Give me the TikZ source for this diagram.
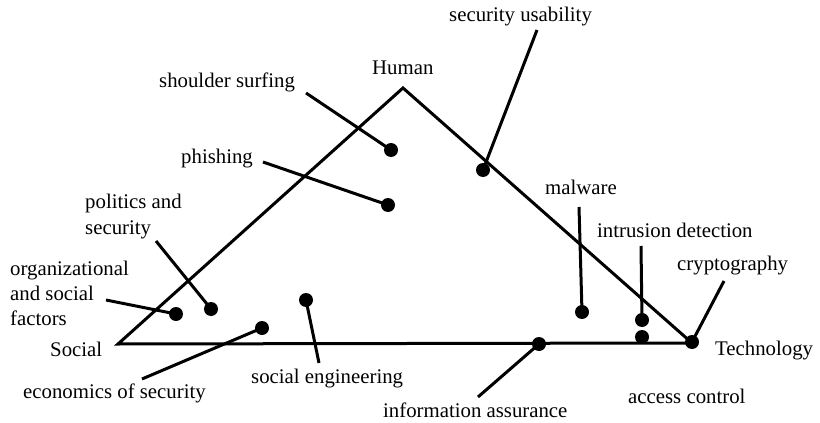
\documentclass[tikz,border=0pt]{standalone}
\usepackage{fontspec}
\setmainfont{Liberation Serif}
\begin{document}
\begin{tikzpicture}[x=1pt,y=-1pt,
  lbl/.style={inner sep=0pt,anchor=base west,font=\fontsize{20.8}{25}\selectfont},
  dot/.style={circle,fill=black,inner sep=0pt,minimum size=14pt},
  link/.style={line width=3pt},
  edge/.style={line width=3pt,line join=miter}]
\useasboundingbox (0,0) rectangle (820,423);
% triangle vertices
\coordinate (vS) at (118,344);
\coordinate (vH) at (403,88);
\coordinate (vT) at (692,343);
\draw[edge] (vS) -- (vH) -- (vT) -- cycle;
% dots
\node[dot] (dss) at (391,150) {};
\node[dot] (dsu) at (483,170) {};
\node[dot] (dph) at (388,205) {};
\node[dot] (dorg) at (176,314) {};
\node[dot] (dpol) at (211,309) {};
\node[dot] (dse) at (306,300) {};
\node[dot] (deco) at (262,328) {};
\node[dot] (dmal) at (582,312) {};
\node[dot] (did) at (642,320) {};
\node[dot] (dac) at (642,337) {};
\node[dot] (dia) at (539,344) {};
\node[dot] (dtech) at (692,342) {};
% leader line ends
\coordinate (lss) at (306,93);
\coordinate (lsu) at (537,30);
\coordinate (lph) at (263,162);
\coordinate (lpol) at (156,241);
\coordinate (lorg) at (106,300);
\coordinate (leco) at (142,379);
\coordinate (lse) at (319,363);
\coordinate (lmal) at (579,207);
\coordinate (lid) at (641,246);
\coordinate (lcry) at (724,281);
\coordinate (lia) at (478,397);
\draw[link] (lss) -- (dss.center);
\draw[link] (lsu) -- (dsu.center);
\draw[link] (lph) -- (dph.center);
\draw[link] (lpol) -- (dpol.center);
\draw[link] (lorg) -- (dorg.center);
\draw[link] (leco) -- (deco.center);
\draw[link] (lse) -- (dse.center);
\draw[link] (lmal) -- (dmal.center);
\draw[link] (lid) -- (did.center);
\draw[link] (lcry) -- (dtech.center);
\draw[link] (lia) -- (dia.center);
% labels
\node[lbl] (tHuman) at (372,74) {Human};
\node[lbl] (tSocial) at (50,356) {Social};
\node[lbl] (tTech) at (715,355) {Technology};
\node[lbl] (tss) at (159,87) {shoulder surfing};
\node[lbl] (tsu) at (449,21) {security usability};
\node[lbl] (tph) at (181,163) {phishing};
\node[lbl] (tmal) at (545,194) {malware};
\node[lbl] (tpol1) at (85,208) {politics and};
\node[lbl] (tpol2) at (85,234) {security};
\node[lbl] (tid) at (597,237) {intrusion detection};
\node[lbl] (tcry) at (677,270) {cryptography};
\node[lbl] (torg1) at (10,275) {organizational};
\node[lbl] (torg2) at (10,300) {and social};
\node[lbl] (torg3) at (10,325) {factors};
\node[lbl] (tse) at (251,383) {social engineering};
\node[lbl] (teco) at (23,398) {economics of security};
\node[lbl] (tac) at (628,403) {access control};
\node[lbl] (tia) at (383,417) {information assurance};
\end{tikzpicture}
\end{document}
